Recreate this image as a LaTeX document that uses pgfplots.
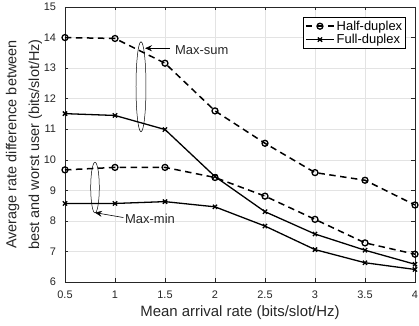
\documentclass[border=0pt]{standalone}
\usepackage{fontspec}
\setmainfont{Liberation Sans}
\usepackage{pgfplots}
\pgfplotsset{compat=1.18}
\usetikzlibrary{arrows.meta}
\begin{document}
\begin{tikzpicture}
\begin{axis}[
  name=ax,
  scale only axis, width=350bp, height=275bp,
  xmin=0.5, xmax=4, ymin=6, ymax=15,
  xtick={0.5,1,...,4}, ytick={6,7,...,15},
  xticklabels={0.5,1,1.5,2,2.5,3,3.5,4},
  grid=major, major grid style={gray!22, line width=0.5pt},
  tick align=inside, tick pos=both, major tick length=3.5bp,
  tick style={black!85, line width=0.5pt},
  axis line style={black!85, line width=0.7pt},
  tick label style={font=\fontsize{11}{12}\selectfont, text=black!85},
  xticklabel style={anchor=base, yshift=-16.5bp},
  yticklabel style={anchor=east, xshift=-5.5bp},
  /pgf/number format/assume math mode=true,
  xlabel={Mean arrival rate (bits/slot/Hz)},
  ylabel={Average rate difference between\\best and worst user (bits/slot/Hz)},
  every axis y label/.style={at={(axis description cs:0,0.5)}, xshift=-41bp, rotate=90, anchor=center, align=center, font=\fontsize{14.5}{23}\selectfont, text=black!85},
  every axis x label/.style={at={(axis description cs:0.5,0)}, yshift=-31bp, anchor=center, font=\fontsize{15}{18}\selectfont, text=black!85},
  legend style={at={(rel axis cs:1,1)}, xshift=-9bp, yshift=-10bp, anchor=north east, font=\fontsize{13}{15}\selectfont, draw=black, line width=0.6pt, inner sep=1.5pt, row sep=-1.5pt, /tikz/every even column/.append style={column sep=2pt}},
  legend cell align=left,
  legend image code/.code={\draw[mark repeat=2, mark phase=2] plot coordinates {(0bp,0bp) (14bp,0bp) (28bp,0bp)};},
]
\addplot[black, line width=1.5pt, dash pattern=on 6.5pt off 4.5pt, mark=o, mark size=3pt, mark options={solid, line width=1.3pt}] coordinates {
(0.5,14.00) (1,13.97) (1.5,13.16) (2,11.60) (2.5,10.54) (3,9.58) (3.5,9.33) (4,8.52)};
\addlegendentry{Half-duplex}
\addplot[black, line width=1.3pt, mark=x, mark size=3pt, mark options={solid, line width=1.3pt}] coordinates {
(0.5,11.51) (1,11.45) (1.5,10.99) (2,9.45) (2.5,8.30) (3,7.57) (3.5,7.04) (4,6.58)};
\addlegendentry{Full-duplex}
\addplot[black, line width=1.5pt, dash pattern=on 6.5pt off 4.5pt, mark=o, mark size=3pt, mark options={solid, line width=1.3pt}, forget plot] coordinates {
(0.5,9.67) (1,9.75) (1.5,9.75) (2,9.42) (2.5,8.81) (3,8.05) (3.5,7.28) (4,6.91)};
\addplot[black, line width=1.3pt, mark=x, mark size=3pt, mark options={solid, line width=1.3pt}, forget plot] coordinates {
(0.5,8.57) (1,8.57) (1.5,8.63) (2,8.46) (2.5,7.83) (3,7.06) (3.5,6.63) (4,6.41)};
% annotations
\draw[black, line width=0.5pt] (axis cs:1.26,12.39) ellipse [x radius=5bp, y radius=45bp];
\draw[black, line width=0.5pt] (axis cs:0.80,9.09) ellipse [x radius=4.3bp, y radius=25.3bp];
\draw[-{Stealth[length=7bp,width=6bp,inset=2.5bp]}, line width=0.6pt] (axis cs:1.55,13.65) -- (axis cs:1.30,13.65);
\node[anchor=west, font=\fontsize{13}{15}\selectfont, text=black!85, inner sep=0pt] at (axis cs:1.60,13.60) {Max-sum};
\draw[-{Stealth[length=7bp,width=6bp,inset=2.5bp]}, line width=0.6pt] (axis cs:1.083,8.11) -- (axis cs:0.80,8.27);
\node[anchor=west, font=\fontsize{13}{15}\selectfont, text=black!85, inner sep=0pt] at (axis cs:1.10,8.08) {Max-min};
\end{axis}
\pgfresetboundingbox
\path ([shift={(-65bp,-44bp)}]ax.south west) rectangle ([shift={(4bp,7bp)}]ax.north east);
\end{tikzpicture}
\end{document}
